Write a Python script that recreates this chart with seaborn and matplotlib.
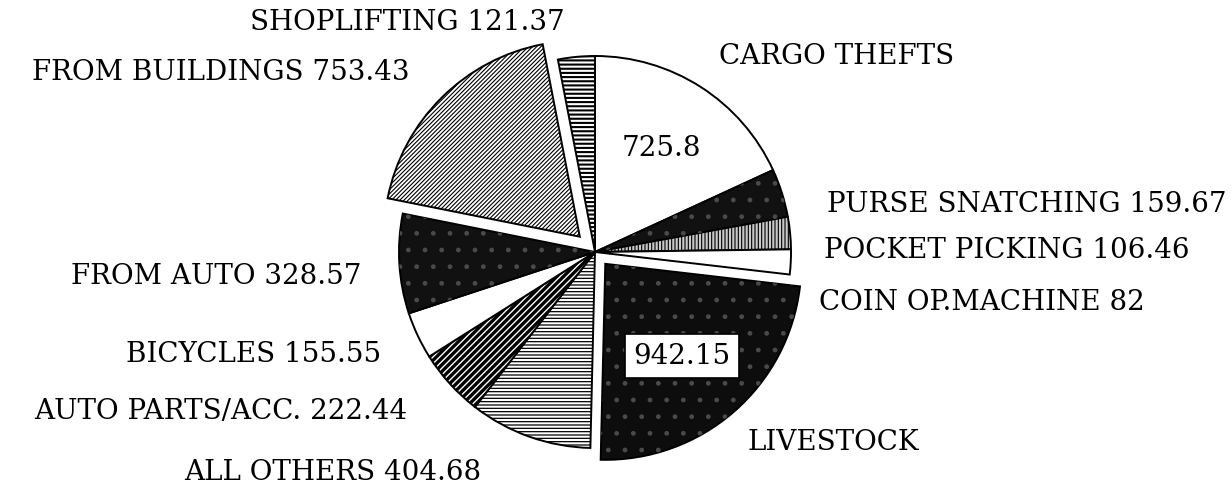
import matplotlib
matplotlib.use("Agg")
import matplotlib.pyplot as plt
import seaborn as sns

sns.set_theme(style="white")
plt.rcParams['font.family'] = ['DejaVu Serif']
plt.rcParams['hatch.linewidth'] = 1.0

# thefts by type (clockwise from 12 o'clock)
categories = ["CARGO THEFTS", "PURSE SNATCHING", "POCKET PICKING", "COIN OP.MACHINE",
              "LIVESTOCK", "ALL OTHERS", "AUTO PARTS/ACC.", "BICYCLES",
              "FROM AUTO", "FROM BUILDINGS", "SHOPLIFTING"]
values = [725.8, 159.67, 106.46, 82, 942.15, 404.68, 222.44, 155.55,
          328.57, 753.43, 121.37]
value_text = ["725.8", "159.67", "106.46", "82", "942.15", "404.68", "222.44",
              "155.55", "328.57", "753.43", "121.37"]
explode = [0, 0, 0, 0, 0.08, 0, 0, 0, 0, 0.11, 0]

# slice styles
faces = ["white", "#111111", "#c8c8c8", "white", "#0d0d0d", "white", "white",
         "white", "#111111", "white", "white"]
hatches = [None, None, "|||||", None, None, "-----", "/////", None, None,
           "////////", "----"]
hatch_lw = [1, 1, 0.8, 1, 1, 0.9, 2.4, 1, 1, 0.8, 1.5]
speckle = [False, True, False, False, True, False, False, False, True, False, False]

W, H = 1232, 489
R = 196           # pie radius in px
cx, cy = 595, 253  # pie centre in px (from top-left)
half = 1.35 * R

fig = plt.figure(figsize=(W / 100, H / 100), dpi=100)
ax = fig.add_axes([(cx - half) / W, (H - cy - half) / H, 2 * half / W, 2 * half / H])

wedges, _ = ax.pie(values, startangle=90, counterclock=False, explode=explode,
                   radius=1, wedgeprops=dict(edgecolor="black", linewidth=1.4))
for w, fc, h, lw in zip(wedges, faces, hatches, hatch_lw):
    w.set_facecolor(fc)
    if h:
        w.set_hatch(h)
        if hasattr(w, "set_hatch_linewidth"):
            w.set_hatch_linewidth(lw)

# faint speckle over the dark slices
over, _ = ax.pie(values, startangle=90, counterclock=False, explode=explode,
                 radius=1, wedgeprops=dict(facecolor="none", edgecolor="#4a4a4a",
                                           linewidth=0))
for w, sp in zip(over, speckle):
    if sp:
        w.set_hatch(".")
    else:
        w.set_visible(False)

ax.set_xlim(-1.35, 1.35)
ax.set_ylim(-1.35, 1.35)
ax.axis("off")

fs = 20
def label(x, y, s, **kw):
    fig.text(x / W, 1 - y / H, s, ha="center", va="center", fontsize=fs,
             color="black", **kw)

label(407, 22, f"{categories[10]} {value_text[10]}")
label(221, 72, f"{categories[9]} {value_text[9]}")
label(837, 57, categories[0])
label(1027, 205, f"{categories[1]} {value_text[1]}")
label(1007, 250, f"{categories[2]} {value_text[2]}")
label(982, 302, f"{categories[3]} {value_text[3]}")
label(833, 443, categories[4])
label(333, 472, f"{categories[5]} {value_text[5]}")
label(221, 412, f"{categories[6]} {value_text[6]}")
label(254, 355, f"{categories[7]} {value_text[7]}")
label(216, 277, f"{categories[8]} {value_text[8]}")

label(661, 148, value_text[0])
label(682, 357, value_text[4],
      bbox=dict(boxstyle="square,pad=0.3", facecolor="white", edgecolor="black",
                linewidth=1.2))

fig.savefig("out.png", dpi=100)
